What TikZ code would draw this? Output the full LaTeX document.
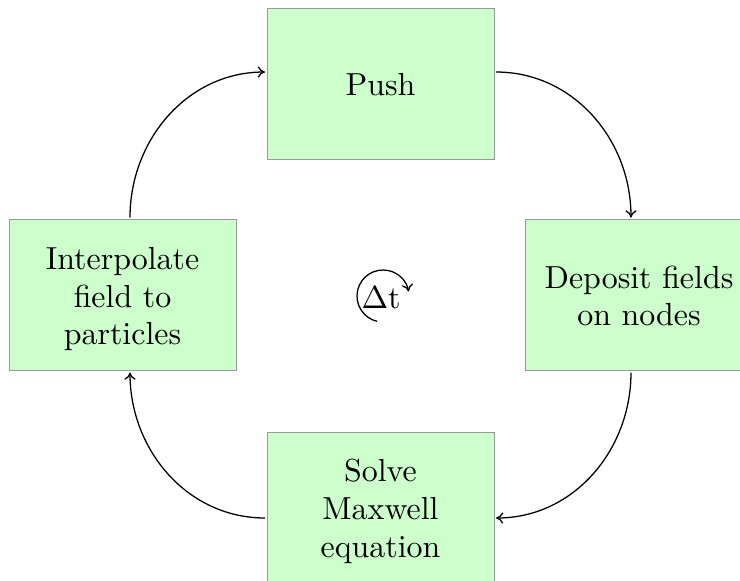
\documentclass[tikz,border=0pt]{standalone}
\usepackage{graphicx}
\usetikzlibrary{arrows.meta}
\newcommand{\bigtxt}[1]{\raisebox{-2.25pt}[\height][\depth]{\scalebox{1.595}{\renewcommand{\arraystretch}{0.98}\begin{tabular}{@{}c@{}}#1\end{tabular}}}}
\begin{document}
\begin{tikzpicture}[x=0.5pt,y=-0.5pt,
  stage/.style={draw=black!40, fill=green!20, line width=0.5pt,
    minimum width=113.5pt, minimum height=75.5pt, inner sep=0pt, outer sep=1pt},
  flow/.style={-{Computer Modern Rightarrow[length=3.6pt,width=5.6pt]}, line width=0.64pt}]
\useasboundingbox (0,0) rectangle (740,580);
\clip (0,0) rectangle (740,580);
\node[stage] (push) at (380.5,83.5) {\bigtxt{Push}};
\node[stage] (deposit) at (639,295) {\bigtxt{Deposit fields\\on nodes}};
\node[stage] (interp) at (122.5,295) {\bigtxt{Interpolate\\field to\\particles}};
\node[stage] (solve) at (380.5,507.5) {\bigtxt{Solve\\Maxwell\\equation}};
\draw[flow] ([xshift=3.75pt]interp.north) to[out=90,in=180] ([yshift=5.75pt]push.west);
\draw[flow] ([yshift=5.75pt]push.east) to[out=0,in=90] ([xshift=-4pt]deposit.north);
\draw[flow] ([xshift=-4pt]deposit.south) to[out=-90,in=0] ([yshift=-5.25pt]solve.east);
\draw[flow] ([yshift=-5.25pt]solve.west) to[out=180,in=-90] ([xshift=3.75pt]interp.south);
\coordinate (dtc) at (383,296);
\node[inner sep=0pt] (dt) at (381,296) {\bigtxt{$\Delta$t}};
\draw[flow] ([shift={(257:13pt)}]dtc) arc[start angle=257, end angle=10, radius=13pt];
\end{tikzpicture}
\end{document}
